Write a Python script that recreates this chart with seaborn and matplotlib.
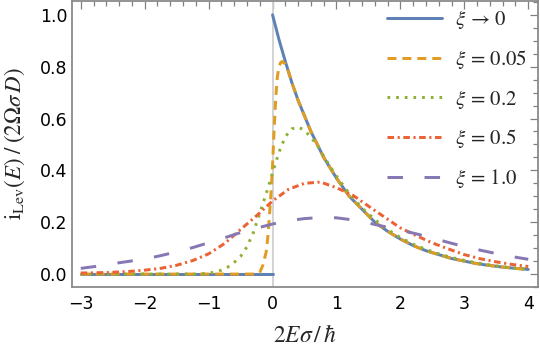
import numpy as np
import pandas as pd
import seaborn as sns
import matplotlib.pyplot as plt
from matplotlib.ticker import MultipleLocator

# values (x = 2E sigma / hbar)
x_xi0_left = [-3.0, 0.0]
y_xi0_left = [0.0, 0.0]
x_xi0 = [0.0, 0.1, 0.2, 0.3, 0.4, 0.5, 0.6, 0.7, 0.8, 0.9, 1.0, 1.2, 1.4, 1.6, 1.8,
         2.0, 2.2, 2.4, 2.6, 2.8, 3.0, 3.2, 3.4, 3.6, 3.8, 4.0]
y_xi0 = [1.00, 0.905, 0.82, 0.74, 0.67, 0.61, 0.55, 0.50, 0.45, 0.41, 0.37, 0.30, 0.25, 0.20, 0.165,
         0.135, 0.11, 0.09, 0.075, 0.06, 0.05, 0.04, 0.033, 0.027, 0.022, 0.018]

x_005 = [-3.0, -0.25, -0.2, -0.15, -0.1, -0.075, -0.05, -0.025, 0.0, 0.025, 0.05, 0.075, 0.1, 0.125,
         0.15, 0.2, 0.25, 0.3, 0.4, 0.5, 0.6, 0.7, 0.8, 0.9, 1.0, 1.2, 1.4, 1.6, 1.8,
         2.0, 2.2, 2.4, 2.6, 2.8, 3.0, 3.2, 3.4, 3.6, 3.8, 4.0]
y_005 = [0.0, 0.0, 0.006, 0.035, 0.085, 0.14, 0.22, 0.31, 0.42, 0.56, 0.68, 0.76, 0.80, 0.815,
         0.82, 0.81, 0.78, 0.74, 0.67, 0.61, 0.55, 0.50, 0.45, 0.41, 0.37, 0.30, 0.25, 0.20, 0.165,
         0.135, 0.11, 0.09, 0.075, 0.06, 0.05, 0.04, 0.033, 0.027, 0.022, 0.018]

x_02 = [-3.0, -1.2, -1.0, -0.9, -0.8, -0.7, -0.6, -0.5, -0.4, -0.3, -0.2, -0.1, 0.0, 0.1, 0.2,
        0.3, 0.4, 0.5, 0.6, 0.7, 0.8, 0.9, 1.0, 1.2, 1.4, 1.6, 1.8, 2.0, 2.2, 2.4, 2.6, 2.8,
        3.0, 3.2, 3.4, 3.6, 3.8, 4.0]
y_02 = [0.0, 0.0, 0.003, 0.008, 0.015, 0.027, 0.045, 0.068, 0.105, 0.16, 0.235, 0.31, 0.39, 0.47, 0.53,
        0.56, 0.567, 0.555, 0.527, 0.497, 0.455, 0.415, 0.378, 0.31, 0.255, 0.21, 0.172, 0.141, 0.115,
        0.095, 0.078, 0.064, 0.053, 0.043, 0.035, 0.028, 0.023, 0.019]

x_05 = [-3.0, -2.75, -2.5, -2.25, -2.0, -1.75, -1.5, -1.25, -1.0, -0.75, -0.5, -0.25, 0.0, 0.25, 0.5,
        0.75, 1.0, 1.25, 1.5, 1.75, 2.0, 2.25, 2.5, 2.75, 3.0, 3.25, 3.5, 3.75, 4.0]
y_05 = [0.004, 0.005, 0.007, 0.010, 0.015, 0.022, 0.034, 0.052, 0.078, 0.118, 0.172, 0.225, 0.282,
        0.327, 0.350, 0.355, 0.333, 0.305, 0.262, 0.220, 0.178, 0.148, 0.120, 0.097, 0.075, 0.059,
        0.047, 0.037, 0.029]

x_10 = [-3.0, -2.75, -2.5, -2.25, -2.0, -1.75, -1.5, -1.25, -1.0, -0.75, -0.5, -0.25, 0.0, 0.25, 0.5,
        0.75, 1.0, 1.25, 1.5, 1.75, 2.0, 2.25, 2.5, 2.75, 3.0, 3.25, 3.5, 3.75, 4.0]
y_10 = [0.022, 0.030, 0.040, 0.049, 0.058, 0.071, 0.086, 0.102, 0.121, 0.140, 0.160, 0.177, 0.193,
        0.206, 0.214, 0.218, 0.217, 0.209, 0.197, 0.183, 0.170, 0.155, 0.139, 0.122, 0.106, 0.092,
        0.079, 0.067, 0.057]

labels = [r'$\xi\, \rightarrow\, 0$', r'$\xi\, =\, 0.05$', r'$\xi\, =\, 0.2$', r'$\xi\, =\, 0.5$', r'$\xi\, =\, 1.0$']
colors = ['#5E81B5', '#E19C24', '#8FB032', '#EB6235', '#8778B3']
styles = ['-', (0, (3.0, 2.0)), (0, (0.9, 2.0)), (0, (2.2, 1.2, 0.7, 1.2)), (0, (5.2, 7.2))]

sns.set_style('white')
plt.rcParams['font.family'] = ['DejaVu Sans']
plt.rcParams['mathtext.fontset'] = 'stix'

fig, ax = plt.subplots(figsize=(5.4, 3.57), dpi=100)
fig.subplots_adjust(left=0.133, right=0.996, top=0.997, bottom=0.196)

ax.axvline(0, color='#d0d0d0', lw=1.3, zorder=1)

series = [(x_xi0, y_xi0), (x_005, y_005), (x_02, y_02), (x_05, y_05), (x_10, y_10)]
lw = 2.15
sns.lineplot(x=x_xi0_left, y=y_xi0_left, color=colors[0], lw=lw, ax=ax, zorder=2)
for i, (xs, ys) in enumerate(series):
    sns.lineplot(x=xs, y=ys, color=colors[i], linestyle=styles[i], lw=lw,
                 label=labels[i], ax=ax, zorder=2 + i, sort=False)

ax.set_xlim(-3.14, 4.15)
ax.set_ylim(-0.05, 1.053)
ax.xaxis.set_minor_locator(MultipleLocator(0.2))
ax.yaxis.set_minor_locator(MultipleLocator(0.05))
ax.set_xticks(range(-3, 5))
ax.set_xticklabels(['\u22123', '\u22122', '\u22121', '0', '1', '2', '3', '4'])
ax.set_yticks([0.0, 0.2, 0.4, 0.6, 0.8, 1.0])
ax.set_yticklabels(['0.0', '0.2', '0.4', '0.6', '0.8', '1.0'])
ax.tick_params(which='both', direction='in', top=True, right=True, color='#808080',
               width=0.9, labelsize=12.5, labelcolor='black')
ax.tick_params(which='major', length=6)
ax.tick_params(which='minor', length=3.5)
ax.tick_params(axis='x', pad=6)
ax.tick_params(axis='y', pad=3)
for sp in ax.spines.values():
    sp.set_color('#8a8a8a')
    sp.set_linewidth(1.3)

ax.set_xlabel(r'$2E\sigma\,/\,\hbar$', fontsize=17)
ax.set_ylabel(r'$\mathrm{i}_{\mathrm{Lev}}(E)\;/\;(2\Omega\sigma\, D)$', fontsize=16.5)
ax.xaxis.set_label_coords(0.5, -0.125)
ax.yaxis.set_label_coords(-0.097, 0.5)

handles, labs = ax.get_legend_handles_labels()
ax.legend(handles, labs, loc='upper left', bbox_to_anchor=(0.676, 0.975), frameon=False,
          fontsize=15, handlelength=2.64, handletextpad=0.63, labelspacing=0.8,
          borderpad=0, borderaxespad=0)

plt.savefig('out.png', dpi=100)
